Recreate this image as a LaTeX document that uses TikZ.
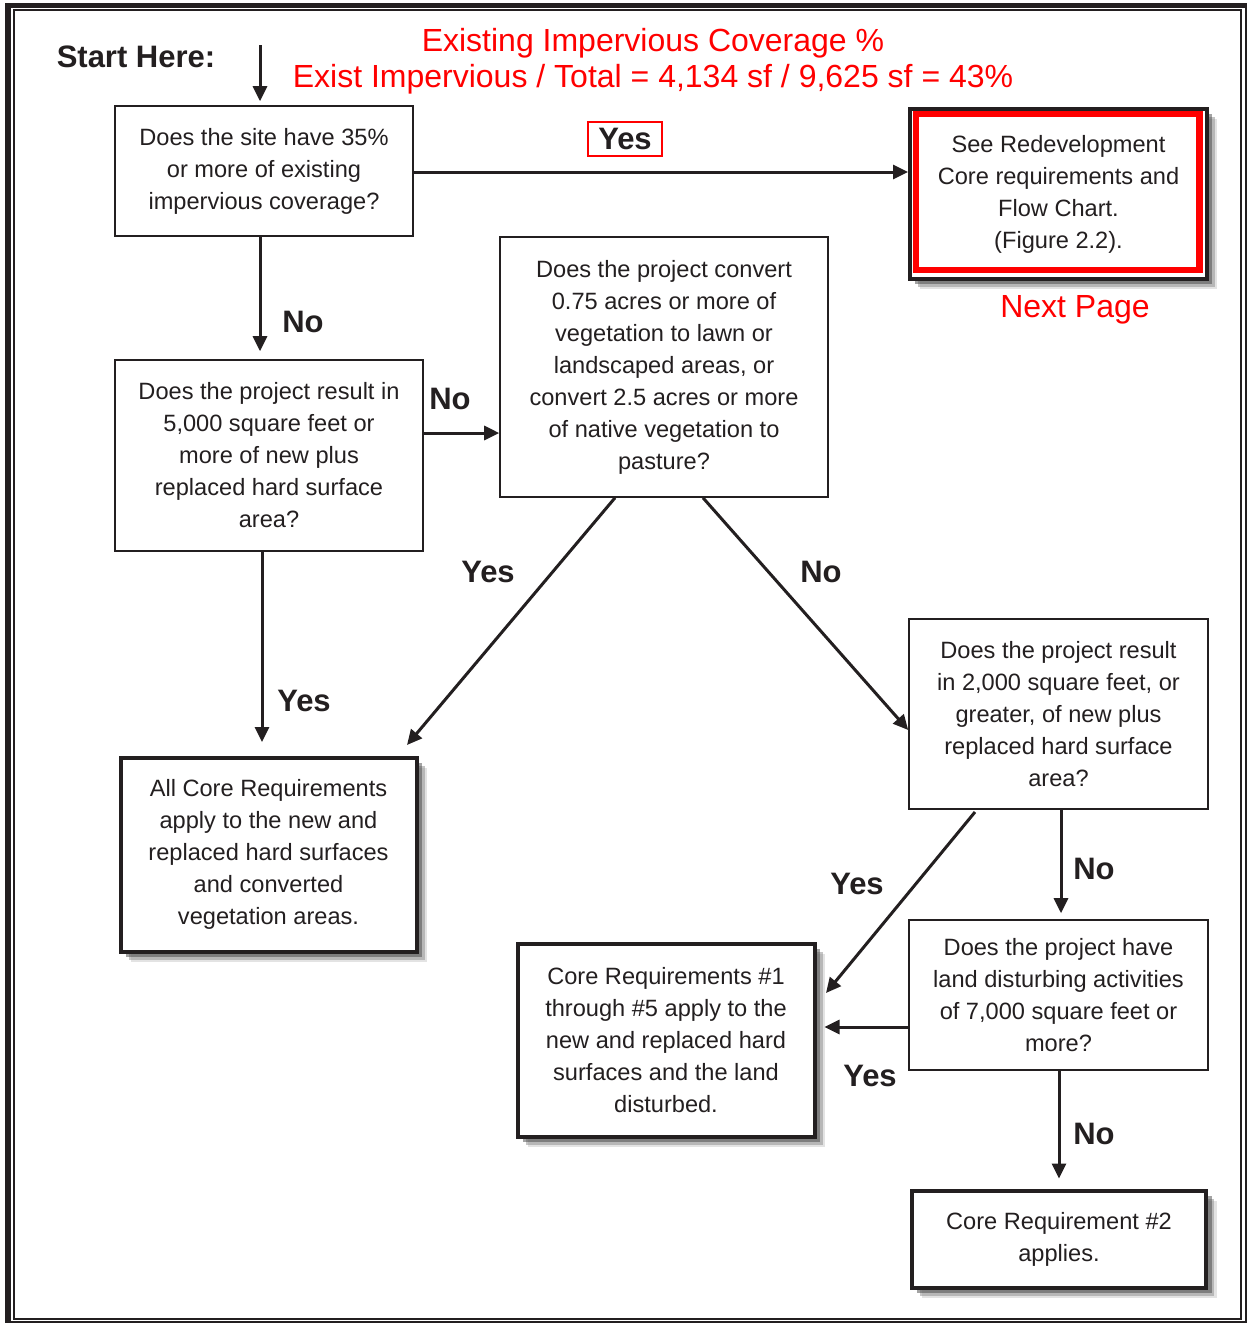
\documentclass[tikz,border=0pt]{standalone}
\usepackage{fontspec}
\setmainfont{Liberation Sans}
\usetikzlibrary{arrows.meta,shadows}
\definecolor{ink}{HTML}{231F20}
\begin{document}
\begin{tikzpicture}[x=0.5pt,y=-0.5pt,
  txt/.style={font=\fontsize{11.8}{16}\selectfont, text=ink, align=center},
  qbox/.style={txt, draw=ink, line width=0.8pt, fill=white, inner sep=0pt},
  rbox/.style={txt, draw=ink, line width=2pt, fill=white, inner sep=0pt,
    drop shadow={shadow xshift=5.2pt, shadow yshift=-5.2pt, fill=black!22},
    drop shadow={shadow xshift=4pt, shadow yshift=-4pt, fill=black!45},
    drop shadow={shadow xshift=2.7pt, shadow yshift=-2.7pt, fill=black!72}},
  lab/.style={font=\bfseries\fontsize{15.5}{18}\selectfont, text=ink},
  redtxt/.style={font=\fontsize{16}{18}\selectfont, text=red},
  arr/.style={draw=ink, line width=1.5pt, -{Triangle[length=7.5pt,width=7pt]}}]
\useasboundingbox (0,0) rectangle (1247,1324);
% frame
\fill[ink] (5,3) rectangle (1247,8);
\fill[ink] (5,3) rectangle (11,1323);
\draw[ink, line width=1pt] (1245.5,3) -- (1245.5,1323);
\draw[ink, line width=1pt] (5,1322) -- (1247,1322);
\draw[ink, line width=1pt] (13.5,10) rectangle (1241,1319);

% titles
\node[lab] (start) at (136,57) {Start Here:};
\node[redtxt] (title1) at (653,43.5) {Existing Impervious Coverage \%};
\node[redtxt] (title2) at (653,79.5) {Exist Impervious / Total = 4,134 sf / 9,625 sf = 43\%};

% boxes
\node[qbox, minimum width=149pt, minimum height=65pt] (q1) at (264,171)
  {Does the site have 35\%\\or more of existing\\impervious coverage?};
\node[rbox, minimum width=148.5pt, minimum height=85pt] (r0) at (1058.5,194)
  {See Redevelopment\\Core requirements and\\Flow Chart.\\(Figure 2.2).};
\draw[red, line width=3.2pt] (916,114) rectangle (1199.5,270);
\node[redtxt] (next) at (1075,310) {Next Page};

\node[qbox, minimum width=154pt, minimum height=95.5pt] (q2) at (269,455.5)
  {Does the project result in\\5,000 square feet or\\more of new plus\\replaced hard surface\\area?};
\node[qbox, minimum width=164pt, minimum height=130pt] (q3) at (664,367)
  {Does the project convert\\0.75 acres or more of\\vegetation to lawn or\\landscaped areas, or\\convert 2.5 acres or more\\of native vegetation to\\pasture?};
\node[qbox, minimum width=149.5pt, minimum height=95pt] (q4) at (1058.5,714)
  {Does the project result\\in 2,000 square feet, or\\greater, of new plus\\replaced hard surface\\area?};
\node[qbox, minimum width=149.5pt, minimum height=75pt] (q5) at (1058.5,995)
  {Does the project have\\land disturbing activities\\of 7,000 square feet or\\more?};
\node[rbox, minimum width=148pt, minimum height=96.75pt] (ra) at (268.5,854.75)
  {All Core Requirements\\apply to the new and\\replaced hard surfaces\\and converted\\vegetation areas.};
\node[rbox, minimum width=148.5pt, minimum height=96.5pt] (rb) at (666,1040.5)
  {Core Requirements \#1\\through \#5 apply to the\\new and replaced hard\\surfaces and the land\\disturbed.};
\node[rbox, minimum width=147.25pt, minimum height=48.5pt] (rc) at (1059,1239)
  {Core Requirement \#2\\applies.};

% connectors
\coordinate (st) at (260,45);
\draw[arr, shorten >=2pt] (st) -- (q1.north -| st);
\draw[arr] (q1.east |- 0,172) -- (r0.west |- 0,172);
\node[lab, draw=red, line width=1pt, minimum width=37pt, minimum height=17pt, inner sep=0pt] (yes1) at (625,139) {Yes};

\draw[arr, shorten >=4pt] (q1.south -| 260,0) -- (q2.north -| 260,0);
\node[lab] (no1) at (303,322) {No};

\draw[arr] (q2.east |- 0,433) -- (q3.west |- 0,433);
\node[lab] (no2) at (450,399) {No};

\draw[arr, shorten >=7pt] (q2.south -| 262,0) -- (ra.north -| 262,0);
\node[lab] (yes2) at (304,701) {Yes};

\coordinate (ay) at (407,745);
\draw[arr] (q3.south -| 615,0) -- (ay);
\node[lab] (yes3) at (488,572) {Yes};

\draw[arr] (q3.south -| 703,0) -- (q4.west |- 0,730);
\node[lab] (no3) at (821,572) {No};

\coordinate (by) at (826,993);
\draw[arr] (975,812) -- (by);
\node[lab] (yes4) at (857,884) {Yes};

\draw[arr, shorten >=3pt] (q4.south -| 1061,0) -- (q5.north -| 1061,0);
\node[lab] (no4) at (1094,869) {No};

\draw[arr, shorten >=4pt] (q5.west |- 0,1027) -- (rb.east |- 0,1027);
\node[lab] (yes5) at (870,1076) {Yes};

\draw[arr, shorten >=5pt] (q5.south -| 1059,0) -- (rc.north -| 1059,0);
\node[lab] (no5) at (1094,1134) {No};
\end{tikzpicture}
\end{document}
